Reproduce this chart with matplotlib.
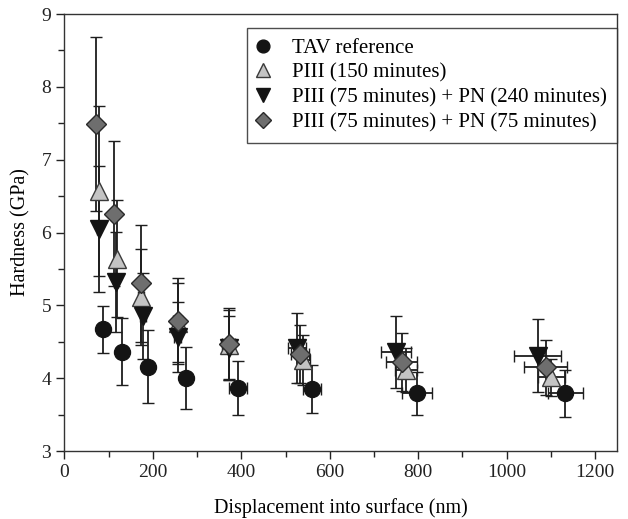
import matplotlib
matplotlib.use("Agg")
import matplotlib.pyplot as plt
from matplotlib.ticker import MultipleLocator

plt.rcParams['font.family'] = ['Liberation Serif', 'DejaVu Serif']

# TAV reference
tav_x = [87, 130, 188, 274, 393, 560, 797, 1133]
tav_y = [4.67, 4.36, 4.16, 4.00, 3.87, 3.85, 3.79, 3.79]
tav_yerr = [0.32, 0.46, 0.50, 0.43, 0.37, 0.33, 0.30, 0.32]
tav_xerr = [3, 5, 6, 10, 20, 20, 34, 40]

# PIII (150 minutes)
p150_x = [78, 118, 173, 256, 371, 540, 772, 1101]
p150_y = [6.57, 5.64, 5.11, 4.76, 4.45, 4.25, 4.11, 4.01]
p150_yerr = [1.17, 0.80, 0.66, 0.54, 0.48, 0.34, 0.30, 0.25]
p150_xerr = [3, 4, 6, 8, 12, 15, 25, 30]

# PIII (75 minutes) + PN (240 minutes)
pn240_x = [77, 117, 177, 256, 371, 526, 750, 1070]
pn240_y = [6.05, 5.32, 4.86, 4.56, 4.42, 4.42, 4.36, 4.31]
pn240_yerr = [0.86, 0.69, 0.59, 0.48, 0.43, 0.48, 0.49, 0.50]
pn240_xerr = [3, 5, 7, 8, 12, 20, 34, 53]

# PIII (75 minutes) + PN (75 minutes)
pn75_x = [71, 112, 173, 256, 371, 533, 763, 1088]
pn75_y = [7.49, 6.26, 5.30, 4.78, 4.47, 4.33, 4.22, 4.15]
pn75_yerr = [1.20, 1.00, 0.80, 0.59, 0.50, 0.40, 0.40, 0.38]
pn75_xerr = [3, 5, 7, 10, 15, 20, 35, 48]

labels = ["TAV reference", "PIII (150 minutes)",
          "PIII (75 minutes) + PN (240 minutes)",
          "PIII (75 minutes) + PN (75 minutes)"]

fig = plt.figure(figsize=(6.28, 5.19), dpi=100)
ax = fig.add_axes([0.1027, 0.131, 0.880, 0.842])

ecol = '#1e1e1e'
common = dict(linestyle='none', ecolor=ecol, elinewidth=1.3, capsize=4, capthick=1.3)

series = [
    (tav_x, tav_y, tav_xerr, tav_yerr, 'o', '#141414', '#141414', 11.5),
    (p150_x, p150_y, p150_xerr, p150_yerr, '^', '#c4c4c4', '#3a3a3a', 13),
    (pn240_x, pn240_y, pn240_xerr, pn240_yerr, 'v', '#141414', '#141414', 13),
    (pn75_x, pn75_y, pn75_xerr, pn75_yerr, 'D', '#6e6e6e', '#2a2a2a', 10),
]
handles = []
for (x, y, xe, ye, m, fc, ec, ms), lab in zip(series, labels):
    ax.errorbar(x, y, yerr=ye, xerr=xe, marker=m, markersize=ms,
                markerfacecolor=fc, markeredgecolor=ec, markeredgewidth=1.0,
                **common)
    h, = ax.plot([], [], linestyle='none', marker=m, markersize=ms * 0.8,
                 markerfacecolor=fc, markeredgecolor=ec, markeredgewidth=1.0,
                 label=lab)
    handles.append(h)

ax.set_xlim(0, 1250)
ax.set_ylim(3, 9)
ax.xaxis.set_major_locator(MultipleLocator(200))
ax.xaxis.set_minor_locator(MultipleLocator(100))
ax.yaxis.set_major_locator(MultipleLocator(1))
ax.yaxis.set_minor_locator(MultipleLocator(0.5))
ax.tick_params(which='major', direction='out', length=6, width=1, labelsize=14, colors='#222222')
ax.tick_params(which='minor', direction='out', length=4, width=1, colors='#222222')
for s in ax.spines.values():
    s.set_color('#333333')
    s.set_linewidth(1.0)

ax.set_xlabel("Displacement into surface (nm)", fontsize=14.5, labelpad=12)
ax.set_ylabel("Hardness (GPa)", fontsize=14.5, labelpad=8)

leg = ax.legend(handles=handles, loc='upper right', bbox_to_anchor=(1.0, 0.968),
                borderaxespad=0,
                fontsize=15, frameon=True, fancybox=False, handletextpad=1.15,
                borderpad=0.5, labelspacing=0.25, handlelength=0.5)
leg.get_frame().set_edgecolor('#222222')
leg.get_frame().set_linewidth(1.0)

fig.savefig("out.png", dpi=100)
